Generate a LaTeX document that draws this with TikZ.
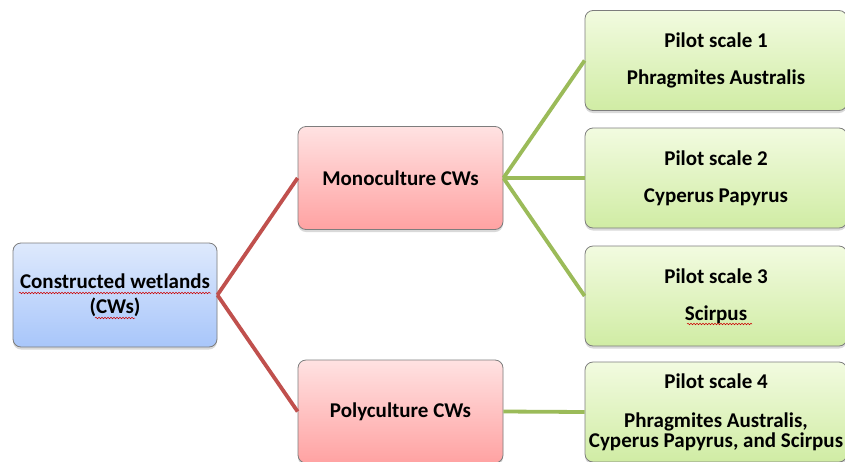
\documentclass[tikz,border=0pt]{standalone}
\usepackage{fontspec}
\setmainfont{Carlito}
\usetikzlibrary{shadows,decorations.pathmorphing}
\definecolor{cwred}{HTML}{C0504D}
\definecolor{cwgreen}{HTML}{9BBB59}
\definecolor{cwedge}{RGB}{125,125,125}
\tikzset{
	box/.style={draw=cwedge, line width=0.8pt, rounded corners=8pt, align=center,
		font=\fontsize{21}{25}\selectfont\bfseries,
		drop shadow={shadow xshift=0pt, shadow yshift=-2.5pt, opacity=0.3}},
	rootbox/.style={box, minimum width=204pt, minimum height=104pt,
		top color={rgb,255:red,222;green,233;blue,252}, bottom color={rgb,255:red,168;green,198;blue,250}},
	cultbox/.style={box, minimum width=205pt, minimum height=103pt,
		top color={rgb,255:red,255;green,226;blue,226}, bottom color={rgb,255:red,255;green,162;blue,162}},
	pilotbox/.style={box, minimum width=262pt, minimum height=100pt,
		top color={rgb,255:red,242;green,251;blue,224}, bottom color={rgb,255:red,208;green,236;blue,164}},
	redline/.style={draw=cwred, line width=3.8pt},
	greenline/.style={draw=cwgreen, line width=3.8pt},
	squiggle/.style={draw=red!80!black, line width=0.5pt,
		decorate, decoration={snake, amplitude=0.8pt, segment length=3pt}}
}

\begin{document}
\begin{tikzpicture}[x=1pt, y=-1pt]
		\useasboundingbox (0,0) rectangle (845,461);
		\node (cw)[rootbox] at(115,295) {Constructed wetlands\\(CWs)};
		\node (mono)[cultbox] at(400.5,178) {Monoculture CWs};
		\node (poly)[cultbox] at(400.5,411.5) {Polyculture CWs};
		\node (p1)[pilotbox] at(716,60.5) {Pilot scale 1\\[12pt]Phragmites Australis};
		\node (p2)[pilotbox] at(716,178) {Pilot scale 2\\[12pt]Cyperus Papyrus};
		\node (p3)[pilotbox] at(716,296) {Pilot scale 3\\[12pt]Scirpus};
		\node (p4)[pilotbox] at(716,412) {Pilot scale 4\\[14pt]Phragmites Australis,\\[-5pt]Cyperus Papyrus, and Scirpus};
		% connectors
		\draw [redline](cw.east)--(mono.west);
		\draw [redline](cw.east)--(poly.west);
		\draw [greenline](mono.east)--(p1.west);
		\draw [greenline](mono.east)--(p2.west);
		\draw [greenline](mono.east)--(p3.west);
		\draw [greenline](poly.east)--(p4.west);
		% spelling marks
		\draw [squiggle](19,293)--(211,293);
		\draw [squiggle](95,318)--(135,318);
		\draw [squiggle](687,324)--(752,324);
	\end{tikzpicture}
\end{document}
